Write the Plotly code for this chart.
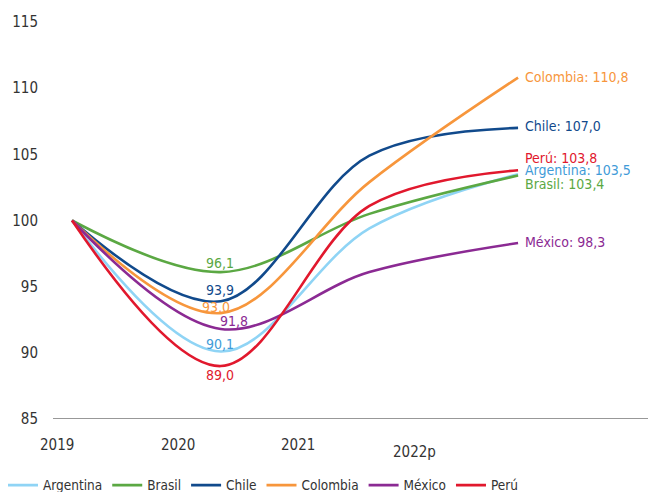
import plotly.graph_objects as go

years = ["2019", "2020", "2021", "2022p"]
countries = ["Argentina", "Brasil", "Chile", "Colombia", "México", "Perú"]
argentina = [100, 90.1, 99.4, 103.5]
brasil = [100, 96.1, 100.5, 103.4]
chile = [100, 93.9, 104.9, 107.0]
colombia = [100, 93.0, 102.9, 110.8]
mexico = [100, 91.8, 96.1, 98.3]
peru = [100, 89.0, 101.1, 103.8]
series = [argentina, brasil, chile, colombia, mexico, peru]
line_colors = ["#8fd4f5", "#5ba843", "#114a8c", "#f7963c", "#8b2a93", "#e1182d"]
text_colors = ["#3f9bd8", "#5ba843", "#114a8c", "#f7963c", "#8b2a93", "#e1182d"]
yticks = [85, 90, 95, 100, 105, 110, 115]

FONT = "DejaVu Sans Condensed, DejaVu Sans, sans-serif"
xs = list(range(len(years)))

fig = go.Figure()
for name, vals, lc in zip(countries, series, line_colors):
    fig.add_trace(go.Scatter(
        x=xs, y=vals, name=name, mode="lines",
        line=dict(color=lc, width=2.6, shape="spline", smoothing=1.0),
        hoverinfo="skip",
    ))

def fmt(v):
    return f"{v:.1f}".replace(".", ",")

# 2020 labels: (xshift, yshift)
offs_2020 = [(-1, 8), (-1, 9), (-1, 11), (-5, 6), (13, 8), (-1, -9)]
for vals, tc, (dx, dy) in zip(series, text_colors, offs_2020):
    fig.add_annotation(x=1, y=vals[1], text=fmt(vals[1]), showarrow=False,
                       xshift=dx, yshift=dy, font=dict(color=tc, size=14, family=FONT))

# end labels
end_dy = [4.5, -8, 2, 1, 1, 12.5]
for name, vals, tc, dy in zip(countries, series, text_colors, end_dy):
    fig.add_annotation(x=3, y=vals[3], text=f"{name}: {fmt(vals[3])}", showarrow=False,
                       xanchor="left", xshift=5, yshift=dy,
                       font=dict(color=tc, size=14, family=FONT))

# x category labels (offset as in the reference)
xlab_px = [57, 178, 298, 414]
xlab_y = [445, 445, 445, 452]
for lab, px, py in zip(years, xlab_px, xlab_y):
    fig.add_annotation(x=(px - 53) / (648 - 53), y=-(py - 419) / 397, xref="paper", yref="paper",
                       text=lab, showarrow=False, xanchor="center", yanchor="middle",
                       font=dict(color="#333333", size=15, family=FONT))

fig.update_layout(
    width=652, height=492,
    margin=dict(l=53, r=4, t=22, b=73, autoexpand=False),
    plot_bgcolor="white", paper_bgcolor="white",
    font=dict(family=FONT, size=14, color="#333333"),
    showlegend=True,
    legend=dict(orientation="h", xref="container", yref="paper",
                x=3 / 652, xanchor="left", y=-0.128, yanchor="top",
                font=dict(size=13.5, color="#333333", family=FONT),
                itemwidth=30, tracegroupgap=0, bgcolor="rgba(0,0,0,0)"),
    xaxis=dict(range=[-0.128, 3.874], showgrid=False, zeroline=False,
               showticklabels=False, ticks="", showline=False, fixedrange=True),
    yaxis=dict(range=[85, 115], tickvals=yticks, showgrid=False, zeroline=False,
               showline=False, ticks="", ticklabelstandoff=14,
               tickfont=dict(size=15, color="#333333", family=FONT)),
)
fig.add_shape(type="line", xref="paper", yref="y", x0=0, x1=1, y0=85, y1=85,
              line=dict(color="#333333", width=1.2))

fig.write_html("out.html")
